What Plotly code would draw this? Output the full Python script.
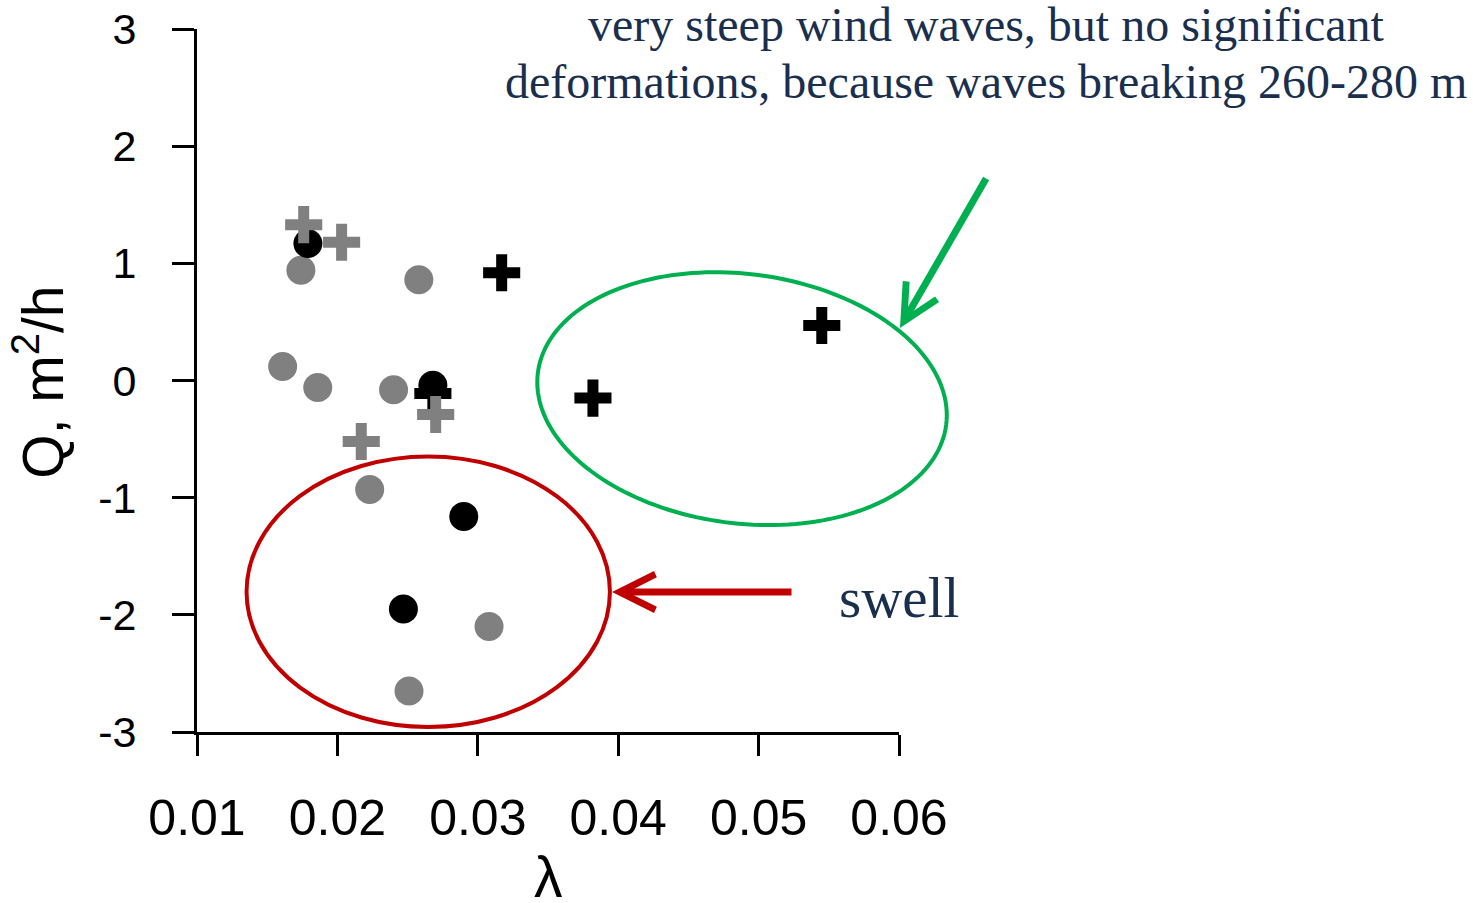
import numpy as np
import plotly.graph_objects as go

# wave steepness (lambda) and cross-shore sediment flux Q, m2/h
gray_dot_x = [0.0174, 0.0258, 0.0161, 0.0186, 0.0240, 0.0223, 0.0308, 0.0251]
gray_dot_y = [0.94, 0.86, 0.12, -0.06, -0.08, -0.93, -2.10, -2.65]

black_dot_x = [0.0179, 0.0268, 0.0290, 0.0247]
black_dot_y = [1.17, -0.04, -1.16, -1.95]

black_plus_x = [0.0317, 0.0268, 0.0382, 0.0545]
black_plus_y = [0.92, -0.11, -0.15, 0.47]

gray_plus_x = [0.0176, 0.0203, 0.0270, 0.0217]
gray_plus_y = [1.33, 1.18, -0.29, -0.52]

x_ticks = [0.01, 0.02, 0.03, 0.04, 0.05, 0.06]
x_tick_text = ["0.01", "0.02", "0.03", "0.04", "0.05", "0.06"]
y_ticks = [-3, -2, -1, 0, 1, 2, 3]
y_tick_text = ["-3", "-2", "-1", "0", "1", "2", "3"]

X_RANGE = [0.01, 0.06]
Y_RANGE = [-3, 3]

W, H = 1473, 903
ML, MR, MT, MB = 197, 574, 29, 171

GRAY = "#808080"
BLACK = "#000000"
RED = "#C00000"
GREEN = "#00B050"
NAVY = "#1A2F4E"
SERIF = "Liberation Serif, Times New Roman, serif"
SANS = "Arial, Liberation Sans, sans-serif"

plot_w = W - ML - MR
plot_h = H - MT - MB


def tilted_ellipse_path(cx, cy, a_px, b_px, angle_deg, n=180):
    """Closed SVG path in paper coordinates of an ellipse centred on a
    data point and tilted on screen (lets it extend past the axes)."""
    t = np.linspace(0, 2 * np.pi, n)
    th = np.radians(angle_deg)
    u = a_px * np.cos(t)
    v = b_px * np.sin(t)
    xr = u * np.cos(th) - v * np.sin(th)
    yr = u * np.sin(th) + v * np.cos(th)
    pcx = (cx - X_RANGE[0]) / (X_RANGE[1] - X_RANGE[0])
    pcy = (cy - Y_RANGE[0]) / (Y_RANGE[1] - Y_RANGE[0])
    xs = pcx + xr / plot_w
    ys = pcy + yr / plot_h
    pts = [f"{x:.5f},{y:.5f}" for x, y in zip(xs, ys)]
    return "M" + " L".join(pts) + " Z"


fig = go.Figure()

fig.add_trace(go.Scatter(
    x=gray_dot_x, y=gray_dot_y, mode="markers",
    marker=dict(symbol="circle", size=29, color=GRAY, line=dict(width=0)),
    showlegend=False))
fig.add_trace(go.Scatter(
    x=black_dot_x, y=black_dot_y, mode="markers",
    marker=dict(symbol="circle", size=29, color=BLACK, line=dict(width=0)),
    showlegend=False))
fig.add_trace(go.Scatter(
    x=black_plus_x, y=black_plus_y, mode="markers",
    marker=dict(symbol="cross-thin", size=26.5, color=BLACK,
                line=dict(width=11, color=BLACK)),
    showlegend=False))
fig.add_trace(go.Scatter(
    x=gray_plus_x, y=gray_plus_y, mode="markers",
    marker=dict(symbol="cross-thin", size=26.5, color=GRAY,
                line=dict(width=11, color=GRAY)),
    showlegend=False))

# swell cluster
red_cx, red_cy, red_rx, red_ry = 0.02647, -1.803, 0.01294, 1.154
# steep wind-wave cluster
green_cx, green_cy = 0.04882, -0.155

shapes = [
    dict(type="circle", xref="x", yref="y",
         x0=red_cx - red_rx, x1=red_cx + red_rx,
         y0=red_cy - red_ry, y1=red_cy + red_ry,
         line=dict(color=RED, width=4), layer="below"),
    dict(type="path", xref="paper", yref="paper",
         path=tilted_ellipse_path(green_cx, green_cy, 205.8, 124.7, -7.3),
         line=dict(color=GREEN, width=4), layer="below"),
]

annotations = [
    dict(text="very steep wind waves, but no significant",
         xref="paper", yref="paper", x=1.124, y=1.007,
         xanchor="center", yanchor="middle", showarrow=False,
         font=dict(family=SERIF, size=48, color=NAVY)),
    dict(text="deformations, because waves breaking 260-280 m",
         xref="paper", yref="paper", x=1.124, y=0.926,
         xanchor="center", yanchor="middle", showarrow=False,
         font=dict(family=SERIF, size=48, color=NAVY)),
    dict(text="swell",
         xref="paper", yref="paper", x=1.0, y=0.192,
         xanchor="center", yanchor="middle", showarrow=False,
         font=dict(family=SERIF, size=57, color=NAVY)),
    # arrows
    dict(text="", xref="paper", yref="paper", x=1.0014, y=0.5747,
         ax=87, ay=-151, showarrow=True, arrowhead=5, arrowsize=1.0,
         arrowwidth=7, arrowcolor=GREEN),
    dict(text="", xref="paper", yref="paper", x=0.5912, y=0.1991,
         ax=181, ay=0, showarrow=True, arrowhead=5, arrowsize=1.0,
         arrowwidth=7, arrowcolor=RED),
    # axis titles
    dict(text="Q, m<sup>2</sup>/h", xref="paper", yref="paper",
         x=-0.225, y=0.497, textangle=-90, showarrow=False,
         xanchor="center", yanchor="middle",
         font=dict(family=SANS, size=57, color=BLACK)),
    dict(text="λ", xref="paper", yref="paper", x=0.5, y=-0.206,
         showarrow=False, xanchor="center", yanchor="middle",
         font=dict(family=SANS, size=57, color=BLACK)),
]

fig.update_layout(
    width=W, height=H,
    margin=dict(l=ML, r=MR, t=MT, b=MB, pad=0),
    paper_bgcolor="white", plot_bgcolor="rgba(0,0,0,0)",
    shapes=shapes, annotations=annotations,
    showlegend=False,
)

fig.update_xaxes(
    range=X_RANGE, tickvals=x_ticks, ticktext=x_tick_text,
    showgrid=False, zeroline=False, showline=True, linecolor=BLACK,
    linewidth=3, ticks="outside", ticklen=21, tickwidth=3,
    tickcolor=BLACK, ticklabelstandoff=19,
    tickfont=dict(family=SANS, size=50, color=BLACK), automargin=False,
)
fig.update_yaxes(
    range=Y_RANGE, tickvals=y_ticks, ticktext=y_tick_text,
    showgrid=False, zeroline=False, showline=True, linecolor=BLACK,
    linewidth=3, ticks="outside", ticklen=22, tickwidth=3,
    tickcolor=BLACK, ticklabelstandoff=27,
    tickfont=dict(family=SANS, size=43, color=BLACK), automargin=False,
)

fig.write_html("out.html")
